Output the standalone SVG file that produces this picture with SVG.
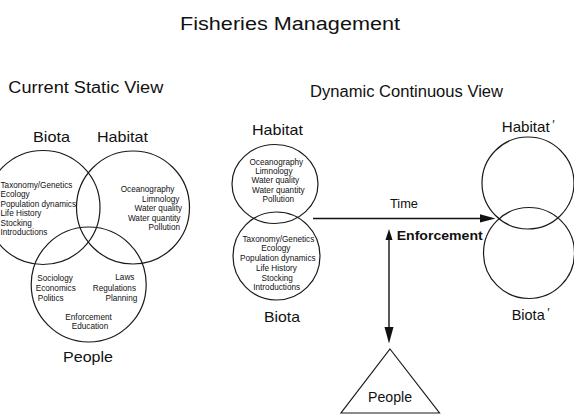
<svg xmlns="http://www.w3.org/2000/svg" width="574" height="414" viewBox="0 0 574 414">
  <style>
    .c { fill: none; stroke: #1a1a1a; stroke-width: 1.2; }
    .t { font-family: "Liberation Sans", Arial, Helvetica, sans-serif; fill: #111; }
    .h1 { font-size: 18px; }
    .h2 { font-size: 16px; }
    .lb { font-size: 15px; }
    .s { font-size: 8.2px; }
    .mid { text-anchor: middle; }
    .end { text-anchor: end; }
    .ln { stroke: #111; stroke-width: 1.4; fill: none; }
    .hd { fill: #111; stroke: none; }
  </style>

  <!-- headings -->
  <text class="t h1" x="180" y="29.5" textLength="220" lengthAdjust="spacingAndGlyphs">Fisheries Management</text>
  <text class="t h2" x="8.3" y="93.3" textLength="155" lengthAdjust="spacingAndGlyphs">Current Static View</text>
  <text class="t h2" x="310" y="96.5" textLength="193" lengthAdjust="spacingAndGlyphs">Dynamic Continuous View</text>

  <!-- static view: three overlapping circles -->
  <g id="static-biota">
    <circle class="c" cx="43" cy="207.5" r="57"/>
    <text class="t lb mid" x="51.5" y="141.7" textLength="37" lengthAdjust="spacingAndGlyphs">Biota</text>
    <text class="t s">
      <tspan x="0.5" y="187.5">Taxonomy/Genetics</tspan>
      <tspan x="0.5" y="197">Ecology</tspan>
      <tspan x="0.5" y="206.5">Population dynamics</tspan>
      <tspan x="0.5" y="216">Life History</tspan>
      <tspan x="0.5" y="225.5">Stocking</tspan>
      <tspan x="0.5" y="235">Introductions</tspan>
    </text>
  </g>

  <g id="static-habitat">
    <circle class="c" cx="133" cy="207.5" r="56.5"/>
    <text class="t lb mid" x="122.5" y="141.7" textLength="51" lengthAdjust="spacingAndGlyphs">Habitat</text>
    <text class="t s end">
      <tspan x="176.7" y="192.3">Oceanography</tspan>
      <tspan x="181.7" y="202">Limnology</tspan>
      <tspan x="184.3" y="211.3">Water quality</tspan>
      <tspan x="182.7" y="220.7">Water quantity</tspan>
      <tspan x="180" y="230.3">Pollution</tspan>
    </text>
  </g>

  <g id="static-people">
    <circle class="c" cx="88.7" cy="284.5" r="57.5"/>
    <text class="t lb mid" x="88" y="361.7" textLength="50" lengthAdjust="spacingAndGlyphs">People</text>
    <text class="t s">
      <tspan x="37.3" y="281.3">Sociology</tspan>
      <tspan x="35.7" y="291.3">Economics</tspan>
      <tspan x="37.7" y="301.3">Politics</tspan>
    </text>
    <text class="t s end">
      <tspan x="136.7" y="280.3">Laws</tspan>
      <tspan x="138.3" y="291.3">Regulations</tspan>
      <tspan x="137.3" y="301.3">Planning</tspan>
    </text>
    <text class="t s mid">
      <tspan x="89.7" y="319.7">Enforcement</tspan>
      <tspan x="90" y="329">Education</tspan>
    </text>
  </g>

  <!-- dynamic view: present state -->
  <g id="dyn-habitat">
    <ellipse class="c" cx="275" cy="184" rx="43" ry="39.5"/>
    <text class="t lb mid" x="277.5" y="135" textLength="51" lengthAdjust="spacingAndGlyphs">Habitat</text>
    <text class="t s mid">
      <tspan x="277.5" y="164.7">Oceanography</tspan>
      <tspan x="275" y="173.7">Limnology</tspan>
      <tspan x="276.5" y="183">Water quality</tspan>
      <tspan x="279.5" y="193">Water quantity</tspan>
      <tspan x="278.3" y="202.3">Pollution</tspan>
    </text>
  </g>

  <g id="dyn-biota">
    <ellipse class="c" cx="276.5" cy="256" rx="43.5" ry="44"/>
    <text class="t lb mid" x="282" y="322" textLength="36" lengthAdjust="spacingAndGlyphs">Biota</text>
    <text class="t s mid">
      <tspan x="279.5" y="242.3">Taxonomy/Genetics</tspan>
      <tspan x="277" y="251.3">Ecology</tspan>
      <tspan x="279" y="260.7">Population dynamics</tspan>
      <tspan x="277.5" y="270.7">Life History</tspan>
      <tspan x="278.3" y="280.7">Stocking</tspan>
      <tspan x="276.7" y="289.7">Introductions</tspan>
    </text>
  </g>

  <!-- dynamic view: future state -->
  <g id="dyn-habitat-next">
    <circle class="c" cx="528" cy="183" r="46"/>
    <text class="t lb" x="501.7" y="132"><tspan textLength="48" lengthAdjust="spacingAndGlyphs">Habitat</tspan><tspan dx="2" dy="-3" font-size="12" font-style="italic">′</tspan></text>
  </g>

  <g id="dyn-biota-next">
    <circle class="c" cx="529" cy="253" r="45.5"/>
    <text class="t lb" x="511.7" y="320"><tspan textLength="33" lengthAdjust="spacingAndGlyphs">Biota</tspan><tspan dx="2" dy="-3" font-size="12" font-style="italic">′</tspan></text>
  </g>

  <g id="dyn-people">
    <polygon class="c" points="390,349 439.5,413 341,413"/>
    <text class="t mid" x="390" y="402" font-size="14" textLength="44" lengthAdjust="spacingAndGlyphs">People</text>
  </g>

  <!-- connectors -->
  <g id="connectors">
    <line class="ln" x1="313" y1="218.5" x2="482" y2="218.5"/>
    <polygon class="hd" points="480,214.3 495.5,218.4 480,222.5"/>
    <text class="t" x="390" y="208.3" font-size="12" textLength="28" lengthAdjust="spacingAndGlyphs">Time</text>

    <line class="ln" x1="389" y1="238" x2="389" y2="330"/>
    <polygon class="hd" points="389,229 392.5,240 385.5,240"/>
    <polygon class="hd" points="384.5,327 393.5,327 389,343.5"/>
    <text class="t" x="396.7" y="240" font-size="13" font-weight="bold" textLength="86" lengthAdjust="spacingAndGlyphs">Enforcement</text>
  </g>
</svg>
